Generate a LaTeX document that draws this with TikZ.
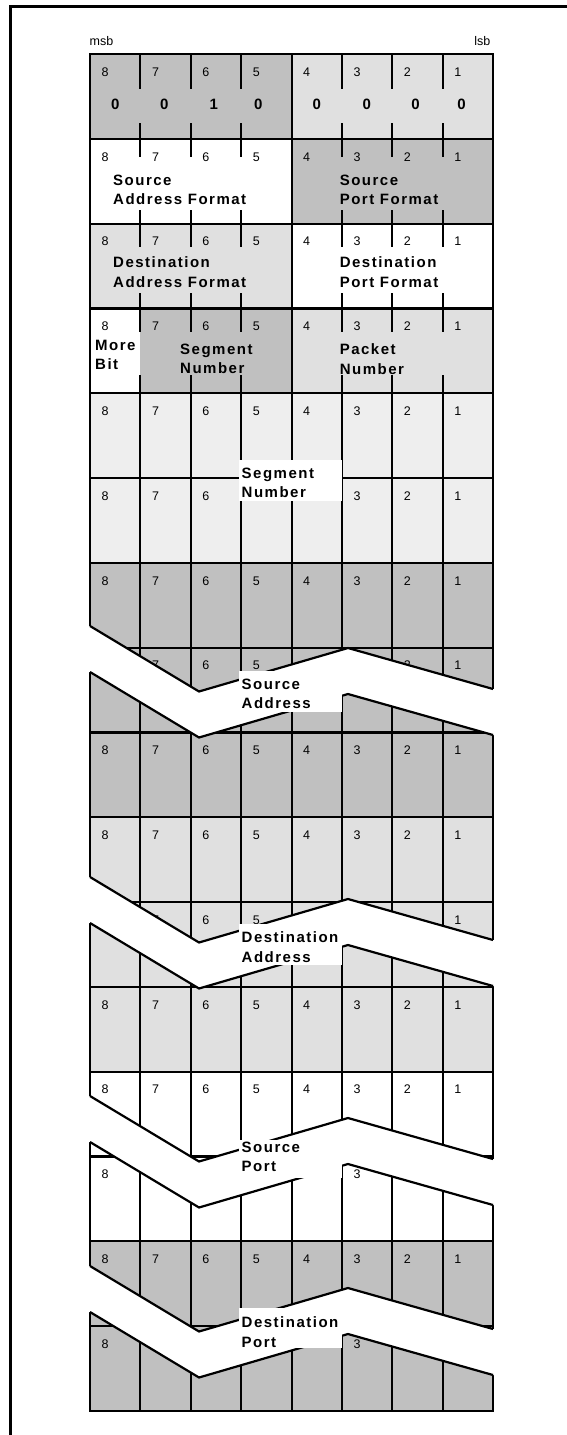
\documentclass[tikz,border=0pt]{standalone}
\usepackage{fontspec}
\setmainfont{Liberation Sans}
\newfontfamily\lblfont[LetterSpace=10]{Liberation Sans}
\definecolor{gdark}{HTML}{C0C0C0}
\definecolor{glight}{HTML}{E0E0E0}
\definecolor{gpale}{HTML}{EEEEEE}
\tikzset{
  gridline/.style={line width=2.2pt},
  frameline/.style={line width=3pt},
  dig/.style={anchor=west, inner sep=0pt, font=\fontsize{12.5}{14}\selectfont},
  val/.style={inner sep=0pt, font={\lblfont\bfseries\fontsize{15}{19}\selectfont}},
  lbl/.style={anchor=north west, inner sep=0pt, align=left, font={\lblfont\bfseries\fontsize{15}{19.5}\selectfont}},
  hdr/.style={anchor=base, inner sep=0pt, font=\fontsize{12.5}{14}\selectfont},
}
\newcommand\breakband[1]{%
  \pgfmathsetmacro\ua{#1-22}\pgfmathsetmacro\ub{#1+43.5}\pgfmathsetmacro\uc{#1}\pgfmathsetmacro\ud{#1+41}%
  \pgfmathsetmacro\la{#1+24}\pgfmathsetmacro\lb{#1+89.5}\pgfmathsetmacro\lc{#1+46}\pgfmathsetmacro\ld{#1+87}%
  \fill[white] (86,\ua) -- (90,\ua) -- (199,\ub) -- (348,\uc) -- (493,\ud) -- (497,\ud)
     -- (497,\ld) -- (493,\ld) -- (348,\lc) -- (199,\lb) -- (90,\la) -- (86,\la) -- cycle;
  \draw[gridline, line join=miter] (90,\ua) -- (199,\ub) -- (348,\uc) -- (493,\ud);
  \draw[gridline, line join=miter] (90,\la) -- (199,\lb) -- (348,\lc) -- (493,\ld);
}
\begin{document}
\begin{tikzpicture}[x=1pt,y=-1pt]
\useasboundingbox (0,0) rectangle (567,1435);
% outer frame
\draw[frameline] (10.5,1436) -- (10.5,6) -- (568,6);
\node[hdr, anchor=base west] (msb) at (89.5,45) {msb};
\node[hdr, anchor=base east] (lsb) at (490.5,45) {lsb};
% fills
\fill[gdark] (90,54) rectangle (292.2,138.8);
\fill[glight] (292.2,54) rectangle (493,138.8);
\fill[white] (90,138.8) rectangle (292.2,223.6);
\fill[gdark] (292.2,138.8) rectangle (493,223.6);
\fill[glight] (90,223.6) rectangle (292.2,308.4);
\fill[white] (292.2,223.6) rectangle (493,308.4);
\fill[white] (90,308.4) rectangle (140.4,393.2);
\fill[gdark] (140.4,308.4) rectangle (292.2,393.2);
\fill[glight] (292.2,308.4) rectangle (493,393.2);
\fill[gpale] (90,393.2) rectangle (493,562.8);
\fill[gdark] (90,562.8) rectangle (493,817.2);
\fill[glight] (90,817.2) rectangle (493,1071.6);
\fill[white] (90,1071.6) rectangle (493,1241.2);
\fill[gdark] (90,1241.2) rectangle (493,1410.8);
% bit numbers (only those visible in the figure)
\foreach \k/\bits in {0/{1,2,3,4,5,6,7,8},1/{1,2,3,4,5,6,7,8},2/{1,2,3,4,5,6,7,8},
    3/{1,2,3,4,5,6,7,8},4/{1,2,3,4,5,6,7,8},5/{1,2,3,6,7,8},6/{1,2,3,4,5,6,7,8},
    7/{1,2,4,5,6,7},8/{1,2,3,4,5,6,7,8},9/{1,2,3,4,5,6,7,8},10/{1,2,5,6,7},
    11/{1,2,3,4,5,6,7,8},12/{1,2,3,4,5,6,7,8},13/{3,8},14/{1,2,3,4,5,6,7,8},15/{3,8}}{
  \foreach \b in \bits{
    \pgfmathsetmacro\xx{90+50.375*(8-\b)+11.5}
    \pgfmathsetmacro\yy{54+84.8*\k+18}
    \node[dig] (d\k-\b) at (\xx,\yy) {\b};
  }
}
% grid lines
\foreach \k in {1,...,15}{
  \pgfmathsetmacro\yy{54+84.8*\k}
  \draw[gridline] (90,\yy) -- (493,\yy);
}
\draw[gridline] (90,54) rectangle (493,1410.8);
\draw[gridline] (292.2,54) -- (292.2,1410.8);
\foreach \i in {1,2,3,5,6,7}{
  \pgfmathsetmacro\xx{90+50.375*\i}
  \draw[gridline] (\xx,393.2) -- (\xx,1410.8);
  \draw[gridline] (\xx,54) -- (\xx,89) (\xx,123) -- (\xx,138.8);
  \draw[gridline] (\xx,138.8) -- (\xx,157) (\xx,210) -- (\xx,223.6);
  \draw[gridline] (\xx,223.6) -- (\xx,247) (\xx,293) -- (\xx,308.4);
  \draw[gridline] (\xx,308.4) -- (\xx,332) (\xx,375) -- (\xx,393.2);
}
% row 1 values
\node[val] (v8) at (115.3,104) {0};
\node[val] (v7) at (164.2,104) {0};
\node[val] (v6) at (213.7,104) {1};
\node[val] (v5) at (258.2,104) {0};
\node[val] (v4) at (316.8,104) {0};
\node[val] (v3) at (366.8,104) {0};
\node[val] (v2) at (415.6,104) {0};
\node[val] (v1) at (461.6,104) {0};
% field labels
\node[lbl] (saf) at (113,174.6) {Source\\Address Format};
\node[lbl] (spf) at (339.6,174.6) {Source\\Port Format};
\node[lbl] (daf) at (113,256.9) {Destination\\Address Format};
\node[lbl] (dpf) at (339.6,256.9) {Destination\\Port Format};
\node[lbl] (more) at (95,339.6) {More\\Bit};
\node[lbl] (segn) at (180,343.6) {Segment\\Number};
\node[lbl] (pktn) at (339.6,343.6) {Packet\\Number};
% segment number block label
\fill[white] (239,460) rectangle (342,501);
\node[lbl] (segnum) at (241.5,467.6) {Segment\\Number};
% break bands
\breakband{648}
\breakband{899}
\breakband{1118}
\breakband{1288}
% block labels
\fill[white] (239,671) rectangle (342,712);
\node[lbl] (srcaddr) at (241.5,678.6) {Source\\Address};
\fill[white] (239,924) rectangle (342,965);
\node[lbl] (dstaddr) at (241.5,931.6) {Destination\\Address};
\fill[white] (239,1140) rectangle (342,1178);
\node[lbl] (srcport) at (241.5,1141.6) {Source\\Port};
\fill[white] (239,1308) rectangle (342,1348);
\node[lbl] (dstport) at (241.5,1316.6) {Destination\\Port};
\end{tikzpicture}
\end{document}
